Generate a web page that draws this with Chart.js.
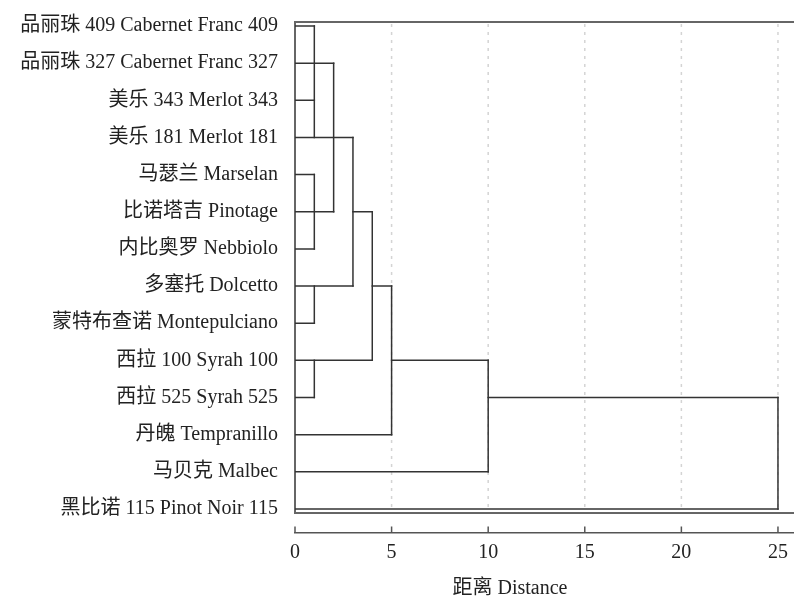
<!DOCTYPE html>
<html>
<head>
<meta charset="utf-8">
<script src="https://cdn.jsdelivr.net/npm/chart.js@4.4.1/dist/chart.umd.min.js"></script>
<style>
  body { margin: 0; background: #fff; }
  #wrap { width: 794px; height: 598px; }
</style>
</head>
<body>
<div id="wrap"><canvas id="chartCanvas"></canvas></div>
<script>
// leaves, top to bottom
var labels = [
  "品丽珠 409 Cabernet Franc 409",
  "品丽珠 327 Cabernet Franc 327",
  "美乐 343 Merlot 343",
  "美乐 181 Merlot 181",
  "马瑟兰 Marselan",
  "比诺塔吉 Pinotage",
  "内比奥罗 Nebbiolo",
  "多塞托 Dolcetto",
  "蒙特布查诺 Montepulciano",
  "西拉 100 Syrah 100",
  "西拉 525 Syrah 525",
  "丹魄 Tempranillo",
  "马贝克 Malbec",
  "黑比诺 115 Pinot Noir 115"
];
var tickValues = [0, 5, 10, 15, 20, 25];

// horizontal pieces: row, from distance, to distance
var hRows = [0, 1, 2, 3, 4, 5, 5, 6, 7, 7, 8, 9, 9, 10, 10, 11, 12, 13];
var hFrom = [0, 0, 0, 0, 0, 0, 3, 0, 0, 4, 0, 0, 5, 0, 10, 0, 0, 0];
var hTo   = [1, 2, 1, 3, 1, 2, 4, 1, 3, 5, 1, 4, 10, 1, 25, 5, 10, 25];

// vertical joins: distance, from row, to row
var vDist = [1, 1, 1, 1, 2, 3, 4, 5, 10, 25];
var vFrom = [0, 4, 7, 9, 1, 3, 5, 7, 9, 10];
var vTo   = [3, 6, 8, 10, 5, 7, 9, 11, 12, 13];

var fontFam = '"Liberation Serif", "Noto Sans CJK SC", serif';
var lineCol = "#333";
var frameBottom = 13.11;

function seg(x0, y0, x1, y1) {
  return {
    data: [{x: x0, y: y0}, {x: x1, y: y1}],
    showLine: true,
    borderColor: lineCol,
    borderWidth: 1.5,
    borderCapStyle: "square",
    pointRadius: 0,
    fill: false
  };
}

var datasets = [];
for (var i = 0; i < hRows.length; i++) {
  datasets.push(seg(hFrom[i], hRows[i], hTo[i], hRows[i]));
}
for (var j = 0; j < vDist.length; j++) {
  datasets.push(seg(vDist[j], vFrom[j], vDist[j], vTo[j]));
}

var framePlugin = {
  id: "frame",
  beforeDatasetsDraw: function(chart) {
    var ctx = chart.ctx, a = chart.chartArea;
    var xs = chart.scales.x, ys = chart.scales.y;
    var yb = ys.getPixelForValue(frameBottom);
    ctx.save();
    // dotted grid
    ctx.strokeStyle = "#d4d4d4";
    ctx.lineWidth = 1.5;
    ctx.setLineDash([3, 5]);
    tickValues.forEach(function(v) {
      if (v === 0) return;
      var px = xs.getPixelForValue(v);
      ctx.beginPath();
      ctx.moveTo(px, a.top + 2);
      ctx.lineTo(px, yb);
      ctx.stroke();
    });
    ctx.setLineDash([]);
    // frame
    ctx.strokeStyle = "#666";
    ctx.lineWidth = 2;
    ctx.beginPath();
    ctx.moveTo(a.right, a.top);
    ctx.lineTo(a.left, a.top);
    ctx.lineTo(a.left, yb);
    ctx.lineTo(a.right, yb);
    ctx.stroke();
    ctx.restore();
  },
  afterDraw: function(chart) {
    var ctx = chart.ctx, a = chart.chartArea;
    var xs = chart.scales.x;
    ctx.save();
    ctx.strokeStyle = "#555";
    ctx.lineWidth = 1.5;
    xs.ticks.forEach(function(t) {
      var px = xs.getPixelForValue(t.value);
      ctx.beginPath();
      ctx.moveTo(px, a.bottom - 6);
      ctx.lineTo(px, a.bottom);
      ctx.stroke();
    });
    ctx.fillStyle = "#222";
    ctx.font = "20px " + fontFam;
    ctx.textAlign = "center";
    ctx.textBaseline = "middle";
    ctx.fillText("距离 Distance", 510, 589);
    ctx.restore();
  }
};

var ctx = document.getElementById("chartCanvas").getContext("2d");
var myChart = new Chart(ctx, {
  type: "scatter",
  data: { datasets: datasets },
  options: {
    responsive: true,
    maintainAspectRatio: false,
    animation: false,
    layout: { padding: { top: 22, left: 0, right: 0, bottom: 0 } },
    plugins: {
      legend: { display: false },
      tooltip: { enabled: false }
    },
    scales: {
      x: {
        type: "linear",
        min: 0,
        max: 25.83,
        afterBuildTicks: function(s) {
          s.ticks = tickValues.map(function(v) { return {value: v}; });
        },
        afterFit: function(s) {
          s.height = 65.5;
          s.paddingLeft = 0;
          s.paddingRight = 0;
        },
        grid: { display: true, drawOnChartArea: false, drawTicks: false },
        border: { display: true, color: "#555", width: 1.5 },
        ticks: {
          padding: 8,
          color: "#222",
          font: { family: fontFam, size: 20 }
        }
      },
      y: {
        type: "linear",
        reverse: true,
        min: -0.108,
        max: 13.634,
        afterBuildTicks: function(s) {
          s.ticks = labels.map(function(l, k) { return {value: k}; });
        },
        afterFit: function(s) {
          s.width = 295;
          s.paddingTop = 0;
          s.paddingBottom = 0;
        },
        grid: { display: true, drawOnChartArea: false, drawTicks: false },
        border: { display: false },
        ticks: {
          autoSkip: false,
          padding: 17,
          color: "#222",
          font: { family: fontFam, size: 20 },
          callback: function(v) { return labels[v]; }
        }
      }
    }
  },
  plugins: [framePlugin]
});
</script>
</body>
</html>
